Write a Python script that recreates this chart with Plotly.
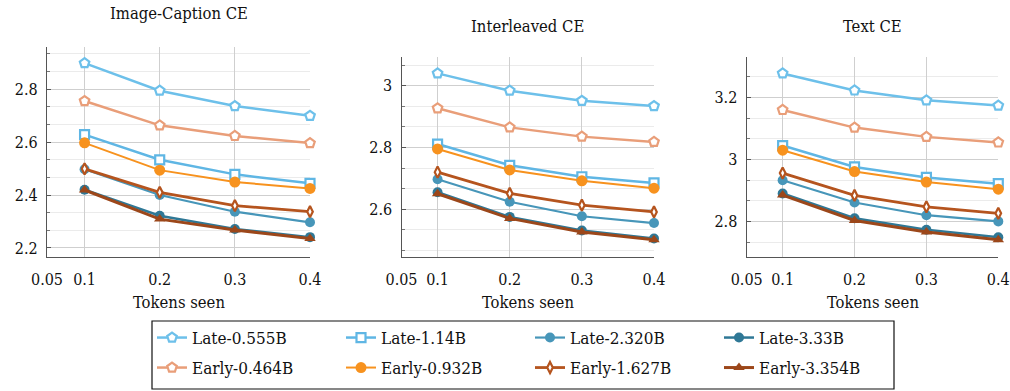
import plotly.graph_objects as go

# Tokens seen (x positions) and axis tick labels
tokens = [0.1, 0.2, 0.3, 0.4]
x_tick_vals = [0.05, 0.1, 0.2, 0.3, 0.4]
x_tick_text = ["0.05", "0.1", "0.2", "0.3", "0.4"]

series_names = [
    "Late-0.555B", "Late-1.14B", "Late-2.320B", "Late-3.33B",
    "Early-0.464B", "Early-0.932B", "Early-1.627B", "Early-3.354B",
]

# Cross-entropy per model, one list per model
image_caption_ce = {
    "Late-0.555B": [2.898, 2.794, 2.736, 2.699],
    "Late-1.14B": [2.628, 2.533, 2.478, 2.444],
    "Late-2.320B": [2.497, 2.400, 2.337, 2.297],
    "Late-3.33B": [2.420, 2.322, 2.272, 2.241],
    "Early-0.464B": [2.755, 2.663, 2.623, 2.596],
    "Early-0.932B": [2.597, 2.494, 2.449, 2.425],
    "Early-1.627B": [2.499, 2.410, 2.360, 2.337],
    "Early-3.354B": [2.419, 2.309, 2.268, 2.236],
}
interleaved_ce = {
    "Late-0.555B": [3.040, 2.984, 2.951, 2.934],
    "Late-1.14B": [2.811, 2.742, 2.705, 2.685],
    "Late-2.320B": [2.697, 2.624, 2.577, 2.555],
    "Late-3.33B": [2.655, 2.575, 2.531, 2.505],
    "Early-0.464B": [2.927, 2.865, 2.835, 2.818],
    "Early-0.932B": [2.795, 2.727, 2.692, 2.668],
    "Early-1.627B": [2.720, 2.651, 2.613, 2.591],
    "Early-3.354B": [2.650, 2.570, 2.526, 2.501],
}
text_ce = {
    "Late-0.555B": [3.278, 3.223, 3.191, 3.174],
    "Late-1.14B": [3.045, 2.976, 2.942, 2.922],
    "Late-2.320B": [2.933, 2.861, 2.820, 2.800],
    "Late-3.33B": [2.890, 2.810, 2.773, 2.749],
    "Early-0.464B": [3.160, 3.103, 3.073, 3.055],
    "Early-0.932B": [3.030, 2.961, 2.927, 2.904],
    "Early-1.627B": [2.956, 2.884, 2.847, 2.826],
    "Early-3.354B": [2.885, 2.803, 2.766, 2.741],
}

panel_titles = ["Image-Caption CE", "Interleaved CE", "Text CE"]
x_title = "Tokens seen"

# color, symbol, filled, marker size, line width
styles = {
    "Late-0.555B": ("#6DC0EA", "pentagon", False, 10, 2.5),
    "Late-1.14B": ("#5FB6E4", "square", False, 9, 2.5),
    "Late-2.320B": ("#4796B9", "circle", True, 10, 2.2),
    "Late-3.33B": ("#2F7896", "circle", True, 10, 2.5),
    "Early-0.464B": ("#E99E79", "pentagon", False, 10, 2.5),
    "Early-0.932B": ("#F7921E", "circle", True, 11, 2.0),
    "Early-1.627B": ("#B5541E", "diamond-tall", False, 8, 2.8),
    "Early-3.354B": ("#9C471A", "triangle-up", True, 10, 3.0),
}

W, H = 1010, 391
SERIF = "DejaVu Serif Condensed, DejaVu Serif"

# pixel boxes of the three panels: (left, right, top, bottom)
panel_px = [(47, 310, 46.7, 257), (401.5, 654, 56.7, 257), (746.7, 998.3, 56.7, 257)]
y_ranges = [(2.166, 2.96), (2.445, 3.094), (2.685, 3.332)]
y_tick0 = [2.2, 2.6, 2.8]

datasets = [image_caption_ce, interleaved_ce, text_ce]

fig = go.Figure()

for p, data in enumerate(datasets):
    suffix = "" if p == 0 else str(p + 1)
    for name in series_names:
        color, sym, filled, msize, lw = styles[name]
        fig.add_trace(go.Scatter(
            x=tokens, y=data[name], mode="lines+markers", name=name,
            xaxis="x" + suffix, yaxis="y" + suffix,
            line=dict(color=color, width=lw),
            marker=dict(symbol=sym, size=msize,
                        color=color if filled else "white",
                        line=dict(color=color, width=2.2 if not filled else 0)),
            cliponaxis=False,
            showlegend=(p == 0),
            legend="legend" if name.startswith("Late") else "legend2",
        ))

layout = dict(
    width=W, height=H,
    margin=dict(l=0, r=0, t=0, b=0, autoexpand=False),
    paper_bgcolor="white", plot_bgcolor="white",
    font=dict(family=SERIF, size=16, color="#111"),
    annotations=[], shapes=[],
)

for p in range(3):
    l, r, t, b = panel_px[p]
    suffix = "" if p == 0 else str(p + 1)
    layout["xaxis" + suffix] = dict(
        domain=[l / W, r / W], anchor="y" + suffix, automargin=False,
        range=[0.05, 0.4], tickvals=x_tick_vals, ticktext=x_tick_text,
        showgrid=True, gridcolor="#cfcfcf", gridwidth=1,
        showline=True, linecolor="#555", linewidth=1.3,
        ticks="", zeroline=False, ticklabelstandoff=8,
        tickfont=dict(family=SERIF, size=16, color="#111"),
    )
    layout["yaxis" + suffix] = dict(
        domain=[(H - b) / H, (H - t) / H], anchor="x" + suffix, automargin=False,
        range=list(y_ranges[p]), tick0=y_tick0[p], dtick=0.2,
        showgrid=True, gridcolor="#cfcfcf", gridwidth=1,
        showline=True, linecolor="#555", linewidth=1.3,
        ticks="inside", ticklen=4, tickcolor="#555", zeroline=False,
        ticklabelstandoff=5,
        tickfont=dict(family=SERIF, size=16, color="#111"),
        minor=dict(tick0=y_tick0[p], dtick=0.2 / 3, showgrid=True,
                   gridcolor="#ebebeb", gridwidth=1,
                   ticks="inside", ticklen=3, tickcolor="#777"),
    )
    cx = (l + r) / 2 / W
    title_y = 13 if p == 0 else 26
    layout["annotations"].append(dict(
        text=panel_titles[p], x=cx, y=(H - title_y) / H, xref="paper", yref="paper",
        showarrow=False, xanchor="center", yanchor="middle",
        font=dict(family=SERIF, size=16.5, color="#111"),
    ))
    layout["annotations"].append(dict(
        text=x_title, x=cx, y=(H - 302) / H, xref="paper", yref="paper",
        showarrow=False, xanchor="center", yanchor="middle",
        font=dict(family=SERIF, size=16.5, color="#111"),
    ))

legend_common = dict(
    orientation="h", xanchor="left", yanchor="middle",
    entrywidth=144, entrywidthmode="pixels",
    font=dict(family=SERIF, size=17, color="#111"),
    bgcolor="rgba(0,0,0,0)", borderwidth=0, itemclick=False, itemdoubleclick=False,
)
layout["legend"] = dict(legend_common, x=152 / W, y=(H - 338) / H)
layout["legend2"] = dict(legend_common, x=152 / W, y=(H - 368) / H)

layout["shapes"].append(dict(
    type="rect", xref="paper", yref="paper",
    x0=152 / W, x1=894 / W, y0=(H - 389) / H, y1=(H - 321) / H,
    line=dict(color="#111", width=1.2), fillcolor="rgba(0,0,0,0)",
))

fig.update_layout(**layout)
fig.write_html("out.html")
